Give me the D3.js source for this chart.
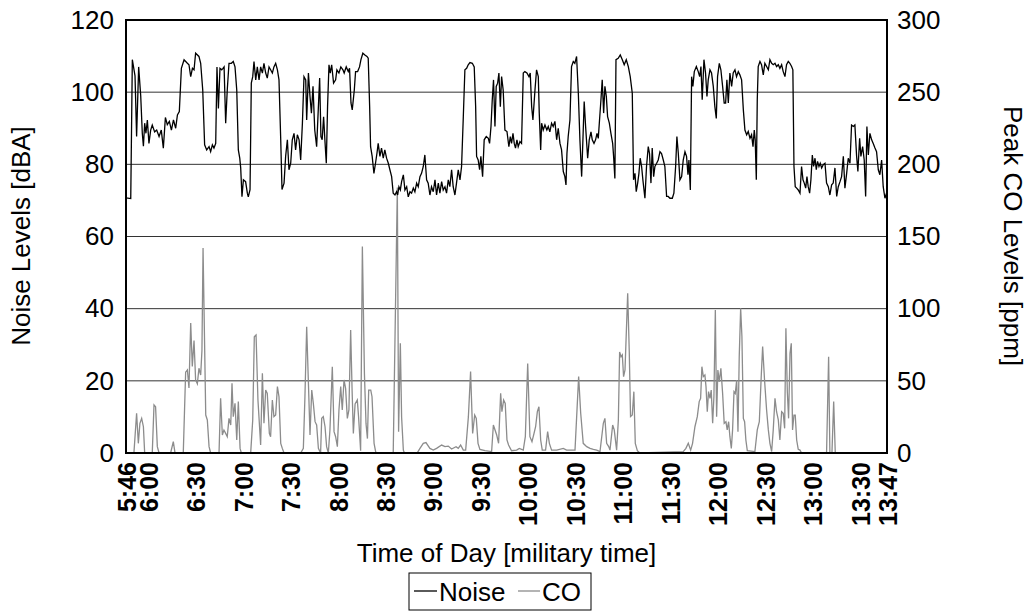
<!DOCTYPE html>
<html><head><meta charset="utf-8">
<script src="https://cdn.jsdelivr.net/npm/d3@7"></script>
<style>body{margin:0;background:#fff}svg{display:block}text{font-family:Arial,"Liberation Sans",sans-serif}</style>
</head><body>
<script>
// elapsed minutes since 5:46
const tickMinutes=[0,14,44,74,104,134,164,194,224,254,284,314,344,374,404,434,464,481];
const tickLabels=["5:46","6:00","6:30","7:00","7:30","8:00","8:30","9:00","9:30","10:00","10:30","11:00","11:30","12:00","12:30","13:00","13:30","13:47"];
const noiseTicks=[0,20,40,60,80,100,120];
const coTicks=[0,50,100,150,200,250,300];
const noiseT=[0,3,4,5.7,6.7,8,9.3,10.3,11,11.8,12.6,13.5,14.5,15.6,16.6,18.1,19.4,20.9,22.3,23.6,24.9,26.1,27.4,28.7,30,31.4,32.5,33.7,35,36.7,38.8,39.8,40.9,42,43,44,46.1,47.2,48.5,49.7,51,52.5,53.5,54.6,55.6,56.7,57.5,58.4,59.4,60.5,61.3,62,63,64,65.1,66.6,67.8,68.9,70,71,71.9,72.5,73.3,74.2,75.6,76.7,77.3,78.4,79.2,80.1,80.9,82,83,84.1,85.1,86.2,87.2,88.3,89.3,90.4,91.4,92.5,93.5,94.6,95.7,96.7,97.8,98.6,99.9,100.9,102,103,104.1,105.1,106.2,107.2,108.3,109.4,110.4,111.5,112.5,113.6,114.2,115.3,116.3,117.2,118.2,119.3,120.5,122.4,123.2,124,124.9,125.7,126.6,127.4,128.3,129.1,130,131.2,132.5,133.3,134.6,135.8,137.1,137.9,139.2,140.5,141.3,142.2,143,144.3,145.1,146.4,147.6,148.5,149.7,151,152.3,153.1,154,154.6,155.6,156.7,157.7,158.6,159.4,160.5,161.5,162.6,163.6,164.7,165.8,166.8,167.9,168.9,170,171,171.7,172.5,173.4,174.2,175.3,176.3,177.4,178.4,179.5,180.5,181.6,182.6,183.7,184.7,185.8,186.8,187.9,188.9,190,191,192.1,193.1,194.2,195.3,196.3,197.4,198.4,199.5,200.5,201.6,202.6,203.7,204.7,205.8,206.8,207.9,208.9,210,211.1,212.1,213.2,214.2,215.3,216.3,217.4,218.9,220.1,221,221.6,222.6,223.5,224.3,225.4,226.4,227.7,229,229.8,230.7,231.5,232.3,233.2,234,234.9,235.7,236.6,237.4,238.4,239.5,240.8,242,242.9,243.7,244.6,245.4,246.2,247.1,247.9,249,250,251.1,252.1,253.4,254.7,255.5,256.4,257.2,258.5,259.5,260.6,261.2,262.1,262.7,263.7,264.8,266,266.9,267.9,269,270,271.1,272.2,273.2,274.3,275.3,276.4,277.4,278.1,278.7,279.5,280.6,281.6,282.7,283.7,284.8,285.9,286.9,288,288.8,289.6,290.5,291.8,292.8,293.9,294.7,295.8,296.8,297.7,298.5,299.3,300.2,301,301.9,302.7,303.6,304.4,305.5,306.5,307.6,308.2,309,309.7,311.1,312.4,313.7,314.9,316.2,317.5,318.7,320,320.8,321.7,322.5,323.4,324.2,325,325.9,326.7,328,329,330.1,330.9,331.8,332.6,333.5,334.3,335.4,336.4,337.5,338.5,339.6,340.6,341.7,342.7,343.8,345.3,346.3,347.4,348.2,349.1,350.1,351.2,352.2,353.3,354.3,355.2,355.8,356.7,357.5,358.3,359.2,360.5,361.7,362.6,363.4,364.2,365.3,366.3,367.2,368,369.1,370.1,371.2,372.2,373.1,373.9,375,376,377.1,378.1,379,379.8,380.7,381.7,382.8,383.8,384.9,385.9,387,388,389.1,390.2,391.2,392.3,393.3,394.4,395.4,396.3,397.1,397.7,398.4,399,399.6,400.7,401.7,402.8,403.8,404.9,406,407,408.1,409.1,410.2,411.2,412.3,413.3,414.4,415.4,416.5,417.5,418.6,419.6,420.7,421.5,422.2,423,423.9,424.9,426,427,427.9,428.7,429.6,430.4,431.2,432.1,432.9,433.8,434.6,435.5,436.3,437.1,438,438.8,439.7,440.7,441.8,442.8,443.9,444.9,446,447,448.1,449.2,450.2,451.3,452.3,453.4,454.4,455.5,456.5,457.6,458.6,459.7,460.7,461.8,462.6,463.7,464.5,465.6,466.6,467.5,468.3,469.2,470.2,471.3,472.3,473.4,474.4,475.5,476.5,477.6,478.6,479.7,481];
const noiseV=[70.7,70.5,109,104.5,87.7,107,99,88.6,85,91.4,88.6,92.3,85.8,89.5,90.9,89,89.5,87.7,89.5,84.5,93,91,91.9,89.5,92.3,90,93.7,94.6,106.6,109,108,107.6,104.3,106.6,106.2,110.8,109.9,108,100.6,85.4,84,84.9,83.5,85.4,84.5,85.8,107,95.5,106.6,106.2,106.6,107,91.4,100.6,108,108,108.5,107,100.6,84,81.7,79,71,75.7,75.2,72,71,73,102.5,104.3,108.5,103.4,107,103.4,107,105.3,108,105.3,103.9,107,106.2,105.3,107,108,106.2,103.4,86.8,73,74.8,82.2,86.8,78.5,80.3,86.8,88.6,84,88.2,86.8,81.2,91.4,104.3,103.4,92.3,105.3,98.8,94.2,101.6,89.5,84.9,103.9,87.7,86.8,93.2,86.8,80.3,96,107.6,105.3,107.6,102.5,103.4,106.2,105.3,107,106.2,105.3,107,105.7,106.6,97,95.1,100.6,105.7,105.7,107,109,110.8,110.3,109.9,109.4,96,84.9,82.2,77.5,80.3,83,85.8,82.2,84.5,81.7,84,81.7,80.3,78.5,76.6,72,71.5,72.4,71.5,73.8,72.9,75.2,77.1,72.9,73.8,71,72.4,72,73.4,72.4,74.8,73.8,76.6,77.5,79.4,82.6,75.7,74.8,71.5,73.8,72.4,75.7,71.5,74.8,72,75.2,72.9,73.8,72,75.7,73.8,78.5,73.8,71.5,74.8,78.5,75.7,79.4,93.2,106.2,106.6,107.6,108.2,108,107,96,82.2,81.2,78.5,82.2,76.6,86.8,87.7,87.2,85.8,90.5,97.9,103.4,90.5,101.6,102.5,105.3,96,104.3,100.6,89.5,89.1,84.9,87.7,85.8,88.6,85.8,84.5,86.8,84.9,86.3,85.8,105.3,105.7,105.3,104.3,105.3,96,92.3,100.6,106.2,104.3,94.2,84,91.4,89.5,90.9,89.5,90.5,89,91.4,90.5,91.9,86.8,90,85.8,84,78,76.6,74.3,83,87.7,92.3,107.1,108.5,108,109.9,99.7,86.8,76.6,86.8,97.4,90.5,81.7,86.8,89,86.8,85.8,86.8,88.6,87.2,92.3,97.9,103.4,94.2,101.6,98.8,93.2,91.4,88.6,85.8,82.2,76.1,109,109.4,110.3,109,107.6,109,107.1,104.3,99.7,75.7,77.5,72.4,74.8,77.5,81.7,79.4,75.7,70.6,79.4,84.9,83,74.8,84.5,76.6,79.4,80.3,81.2,83.5,83,81.2,79.4,71.1,71.1,70.6,70.6,72,79.4,87.7,83,75.7,76.6,81.2,83.5,82.2,77.1,81.2,72.9,104.3,101.6,105.7,107.1,105.7,104.3,107.1,97.9,109,105.3,98.8,103.4,106.2,105.3,101.6,96,92.7,104.3,108,106.2,101.6,97,97,103.4,97,105.3,101.6,105.3,106.2,104.3,105.7,104.8,103.4,95.1,89.5,88.2,89.1,87.2,88.2,84.9,89.5,86.8,75.7,97.9,107.1,108.5,107.6,104.8,108,107.1,106.2,109,108,107.6,108,107.1,107.6,106.6,107.6,105.7,104.3,107.6,108.5,108,107.1,106.2,79.4,73.8,73.4,72.9,72,79.4,75.7,74.8,73.4,76.6,73.8,72,75.7,82.6,79.4,81.7,78.5,80.8,79.4,80.3,79,79.9,80.3,74.8,73.8,71.5,74.3,74.8,79,71.1,73.8,75.2,76.6,82.2,73.4,77.5,81.7,80.3,90.9,90.5,90.9,82.2,78,87.2,82.2,84.9,81.2,71.1,90.5,82.6,88.6,86.8,85.8,84.5,83.5,78.5,77.1,81.2,73.8,70.6,72.4];
const coT=[4,5,6.7,7.8,8.8,9.9,11,11.8,16.6,17.7,18.7,19.8,20.9,28.2,29.9,31,36.2,37.7,38.8,39.8,40.9,41.9,43,44,45.1,46.1,47.2,48,48.7,50.4,51.4,52.5,53.5,58.8,59.8,60.9,61.9,63,64,65.1,66.2,67,67.8,68.9,70,71,72.1,72.9,78.8,80.1,81.1,82.2,83.4,85.1,86.2,87.2,88.3,89.3,90.6,91.4,92.5,93.5,94.6,95.7,96.7,97.8,98.8,99.9,110.4,112.1,113.1,114.2,115.3,116.3,117.4,118.4,119.5,120.5,121.6,123,123.7,124.7,125.8,126.8,127.9,128.9,130.4,131.5,132.5,133.6,134.6,135.7,136.7,137.8,138.8,139.9,140.9,142,142.9,143.7,144.8,146.2,147,148.3,149.4,150.7,151.7,152.6,153.4,154.7,155.5,156.8,157.6,158,168.9,171.5,172.3,173.4,174.2,175.3,176,184,185.8,187.9,189.6,192.1,194.2,196.3,199.5,201.6,203.7,205.8,208.6,210,211.5,213.2,214.7,216.4,217.8,219.1,220.4,221.4,222.5,223.7,226.9,231.1,232.2,234.3,235.5,236.8,237.6,238.7,239.7,240.8,241.8,243.7,246.9,248.6,251.1,252.4,253.9,255.3,256.6,257.9,258.9,260,261,262.1,263.1,265.2,266.5,267.6,269,272.2,276.4,278.5,283.8,286.1,287.4,289,291.2,293.3,295.4,297.5,299.6,301.7,302.7,303.8,305.1,305.9,307.6,308.6,310.1,311.2,312,312.9,313.7,314.5,315.4,317.1,318.1,318.9,320,321,321.9,323.2,324.8,352.2,353.9,355.4,356.9,358.1,359.6,361.1,362.3,363.2,364,364.9,365.9,366.6,367.4,368.2,369.1,369.9,370.8,371.6,372.5,373.3,374.1,375,376,377.1,378.1,379.2,380,380.9,381.7,382.6,383.4,384.3,385.1,386,386.8,387.6,388.5,389.3,390.2,391,391.8,392.7,397.5,399,400.3,401.5,402.4,403.6,404.9,406,407,408.1,409.1,410.2,411.2,412.3,413.3,414.4,415.4,416.3,417.1,418,418.8,419.7,420.5,421.3,422.2,423,423.9,424.9,426,427,442.8,444.1,444.9,446.2,447.3,448.3];
const coV=[0,0,27.5,6.7,20.6,24,18.2,0,0,33.3,32,4.4,0,0,7.9,0,0,56,57.5,45,90,60,78,50.6,48,58.7,54,71,142,26.3,22.9,4.4,0,0,37.9,12.5,15.9,13.6,11.3,24,19.4,48.3,25.2,34.4,9,35.6,3.2,0,0,22.9,80.6,81.8,36.7,5.5,55.2,20.6,43.6,41.3,13.6,11.3,36.7,25.2,26.3,46,39,6.7,3.2,0,0,3.2,39,87.5,48.3,12.5,43.6,34.4,21.7,19.4,3.2,0,24,25.2,18.2,4.4,0,15.9,59.8,14.8,11.3,4.4,29.8,46,29.8,50.6,44.8,24,29.8,85.2,43.6,13.6,34,36.7,25,1.6,143,55,20.5,10,43.6,43.6,39,6.7,2,0,0,184,14.8,76,25,2,0,0,3.2,6.7,7.2,3.2,2,3.2,5.5,4.4,4.8,2.8,4.4,3.2,5.5,2,2,25,56.4,13.6,26.3,24,6.7,2.5,1.6,1,19.4,12.5,6.7,41.3,28.6,36.7,34.4,9,5.5,1.6,2,3.2,2,11.3,62,11.3,7.8,13.6,18.2,28.6,32.1,9,2,2,14.8,6.7,2,2,3.2,2,2,52.9,27.5,6.7,4.4,3.2,2.5,2,1,20.6,24,6.7,4.4,2,19.4,16,2,22.9,70,66.7,68,52.9,57.5,110.6,70,25.2,26.3,42.5,6.7,1.6,0,1,3.2,6.7,2,6.7,18.2,25.2,35.6,37.9,59.8,52.9,54,46,28.6,42.5,37.9,43.6,20.6,39,99,25.2,57.5,49.4,58.7,41.3,20.6,21.7,16,21.7,11.3,3.2,16,42.5,41.3,50.6,14.8,66.7,100.2,80.6,24,21.7,9,1.6,1,16,21.7,52.9,73.7,50.6,29.8,16,6.7,1,16,37.9,28.6,22.9,9,28.6,27.5,17.1,86.4,42.5,24,69,76,16,26.3,26.3,9,2.5,2,0,0,66.7,0,0,35.6,0];

const W=1027,H=612,L=126,R=887,T=20,B=453;
const svg=d3.select("body").append("svg").attr("width",W).attr("height",H);
svg.append("rect").attr("width",W).attr("height",H).attr("fill","#fff");
const x=d3.scaleLinear().domain([0,481]).range([L,R]);
const yL=d3.scaleLinear().domain([0,120]).range([B,T]);
const yR=d3.scaleLinear().domain([0,300]).range([B,T]);

// gridlines
svg.append("g").selectAll("line").data(noiseTicks.slice(1,-1)).join("line")
 .attr("x1",L).attr("x2",R).attr("y1",d=>yL(d)).attr("y2",d=>yL(d))
 .attr("stroke","#333").attr("stroke-width",1);

const noise=noiseT.map((t,i)=>[t,noiseV[i]]);
const co=coT.map((t,i)=>[t,coV[i]]);
svg.append("path").datum(co).attr("fill","none").attr("stroke","#8c8c8c").attr("stroke-width",1.3)
 .attr("d",d3.line().x(d=>x(d[0])).y(d=>yR(d[1])));
svg.append("path").datum(noise).attr("fill","none").attr("stroke","#000").attr("stroke-width",1.3)
 .attr("d",d3.line().x(d=>x(d[0])).y(d=>yL(d[1])));

// frame
svg.append("rect").attr("x",L).attr("y",T).attr("width",R-L).attr("height",B-T)
 .attr("fill","none").attr("stroke","#000").attr("stroke-width",2);

const fs=26;
const ff="Arial, 'Liberation Sans', sans-serif";
const gl=svg.append("g").attr("transform",`translate(${L},0)`).call(d3.axisLeft(yL).tickValues(noiseTicks).tickSize(0).tickPadding(12));
gl.select(".domain").remove();
gl.selectAll("text").attr("font-size",fs).attr("fill","#000").attr("font-family",ff);
const gr=svg.append("g").attr("transform",`translate(${R},0)`).call(d3.axisRight(yR).tickValues(coTicks).tickSize(0).tickPadding(10));
gr.select(".domain").remove();
gr.selectAll("text").attr("font-size",fs).attr("fill","#000").attr("font-family",ff);

const gx=svg.append("g").attr("transform",`translate(0,${B})`).call(d3.axisBottom(x).tickValues(tickMinutes).tickFormat((d,i)=>tickLabels[i]).tickSize(0));
gx.select(".domain").remove();
gx.selectAll("text").attr("font-size",25).attr("font-weight","bold").attr("fill","#000")
 .attr("font-family",ff)
 .attr("text-anchor","end").attr("transform","rotate(-90)").attr("x",-9).attr("y",0).attr("dy","0.36em");

svg.append("text").attr("transform","translate(30,236) rotate(-90)").attr("text-anchor","middle")
 .attr("font-size",fs).text("Noise Levels [dBA]");
svg.append("text").attr("transform","translate(1004,236) rotate(90)").attr("text-anchor","middle")
 .attr("font-size",fs).text("Peak CO Levels [ppm]");
svg.append("text").attr("x",(L+R)/2).attr("y",562).attr("text-anchor","middle")
 .attr("font-size",fs).text("Time of Day [military time]");

// legend
const lg=svg.append("g");
lg.append("rect").attr("x",409).attr("y",573).attr("width",182).attr("height",37).attr("fill","#fff").attr("stroke","#000");
lg.append("line").attr("x1",414).attr("x2",437).attr("y1",591).attr("y2",591).attr("stroke","#000").attr("stroke-width",1.3);
lg.append("text").attr("x",439).attr("y",601).attr("font-size",fs).text("Noise");
lg.append("line").attr("x1",518).attr("x2",540).attr("y1",591).attr("y2",591).attr("stroke","#8c8c8c").attr("stroke-width",1.3);
lg.append("text").attr("x",542).attr("y",601).attr("font-size",fs).text("CO");
</script>
</body></html>
